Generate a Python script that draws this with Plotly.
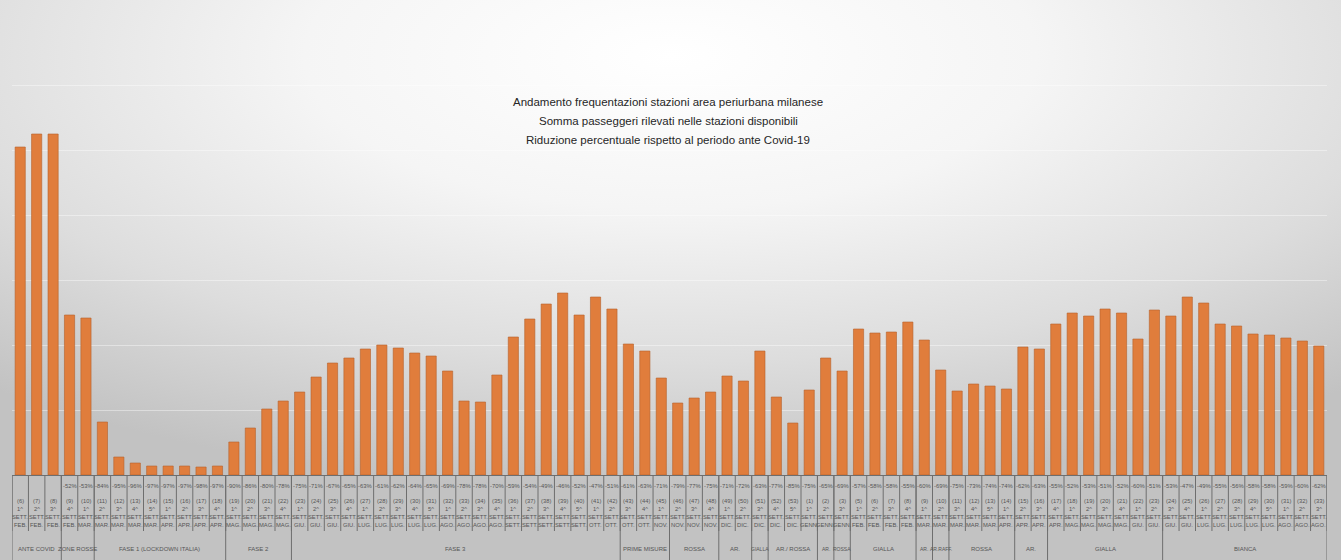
import base64
import plotly.graph_objects as go

# settimane (numero ISO), ordinale nel mese, mese
weeks = [6, 7, 8, 9, 10, 11, 12, 13, 14, 15, 16, 17, 18, 19, 20, 21, 22,
         23, 24, 25, 26, 27, 28, 29, 30, 31, 32, 33, 34, 35, 36, 37, 38, 39, 40, 41, 42,
         43, 44, 45, 46, 47, 48, 49, 50, 51, 52, 53,
         1, 2, 3, 5, 6, 7, 8, 9, 10, 11, 12, 13, 14, 15, 16, 17, 18, 19, 20, 21, 22,
         23, 24, 25, 26, 27, 28, 29, 30, 31, 32, 33]
ordinals = [1, 2, 3, 4, 1, 2, 3, 4, 5, 1, 2, 3, 4, 1, 2, 3, 4,
            1, 2, 3, 4, 1, 2, 3, 4, 5, 1, 2, 3, 4, 1, 2, 3, 4, 5, 1, 2,
            3, 4, 1, 2, 3, 4, 1, 2, 3, 4, 5,
            1, 2, 3, 1, 2, 3, 4, 1, 2, 3, 4, 5, 1, 2, 3, 4, 1, 2, 3, 4, 1,
            2, 3, 4, 1, 2, 3, 4, 5, 1, 2, 3]
months = ["FEB.", "FEB.", "FEB.", "FEB.", "MAR.", "MAR.", "MAR.", "MAR.", "MAR.",
          "APR.", "APR.", "APR.", "APR.", "MAG.", "MAG.", "MAG.", "MAG.",
          "GIU.", "GIU.", "GIU.", "GIU.", "LUG.", "LUG.", "LUG.", "LUG.", "LUG.",
          "AGO.", "AGO.", "AGO.", "AGO.", "SETT.", "SETT.", "SETT.", "SETT.", "SETT.",
          "OTT.", "OTT.", "OTT.", "OTT.", "NOV.", "NOV.", "NOV.", "NOV.",
          "DIC.", "DIC.", "DIC.", "DIC.", "DIC.",
          "GENN.", "GENN.", "GENN.", "FEB.", "FEB.", "FEB.", "FEB.",
          "MAR.", "MAR.", "MAR.", "MAR.", "MAR.", "APR.", "APR.", "APR.", "APR.",
          "MAG.", "MAG.", "MAG.", "MAG.", "GIU.", "GIU.", "GIU.", "GIU.",
          "LUG.", "LUG.", "LUG.", "LUG.", "LUG.", "AGO.", "AGO.", "AGO."]
# somma passeggeri (unita' relative)
passengers = [328, 341, 341, 160, 157, 53, 18, 12, 9, 9, 9, 8, 9, 33, 47, 66, 74,
              83, 98, 112, 117, 126, 130, 127, 122, 119, 104, 74, 73, 100, 138, 156,
              171, 182, 160, 178, 166, 131, 124, 97, 72, 77, 83, 99, 94, 124, 78, 52,
              85, 117, 104, 146, 142, 143, 153, 135, 105, 84, 91, 89, 86, 128, 126,
              151, 162, 159, 166, 162, 136, 165, 159, 178, 172, 151, 149, 141, 140,
              137, 134, 129]
reduction = ["", "", "", "-52%", "-53%", "-84%", "-95%", "-96%", "-97%", "-97%",
             "-97%", "-98%", "-97%", "-90%", "-86%", "-80%", "-78%",
             "-75%", "-71%", "-67%", "-65%", "-63%", "-61%", "-62%", "-64%", "-65%",
             "-69%", "-78%", "-78%", "-70%", "-59%", "-54%", "-49%", "-46%", "-52%",
             "-47%", "-51%", "-61%", "-63%", "-71%", "-79%", "-77%", "-75%", "-71%",
             "-72%", "-63%", "-77%", "-85%", "-75%", "-65%", "-69%", "-57%", "-58%",
             "-58%", "-55%", "-60%", "-69%", "-75%", "-73%", "-74%", "-74%", "-62%",
             "-63%", "-55%", "-52%", "-53%", "-51%", "-52%", "-60%", "-51%", "-53%",
             "-47%", "-49%", "-55%", "-56%", "-58%", "-58%", "-59%", "-60%", "-62%"]
group_labels = ["ANTE COVID", "ZONE ROSSE", "FASE 1 (LOCKDOWN ITALIA)", "FASE 2", "FASE 3",
                "PRIME MISURE", "ROSSA", "AR.", "GIALLA", "AR./ ROSSA", "AR.", "ROSSA",
                "GIALLA", "AR.", "AR.RAFF.", "ROSSA", "AR.", "GIALLA", "BIANCA"]
group_sizes = [3, 2, 8, 4, 20, 3, 3, 2, 1, 3, 1, 1, 4, 1, 1, 4, 2, 7, 10]

title_lines = ["Andamento frequentazioni stazioni area periurbana milanese",
               "Somma passeggeri rilevati nelle stazioni disponibili",
               "Riduzione percentuale rispetto al periodo ante Covid-19"]

W, H = 1341, 560
ML, MR, MT, MB = 12, 14, 20, 85
PH = H - MT - MB

def py(px):  # pixel below the baseline -> paper y
    return -px / PH

n = len(passengers)
xs = list(range(n))

fig = go.Figure()
fig.add_trace(go.Bar(x=xs, y=passengers, marker=dict(color="#E07D3C", line=dict(color="#B5622C", width=0.6)),
                     width=0.62, hoverinfo="y"))

# background gradient
svg = ('<svg xmlns="http://www.w3.org/2000/svg" width="1341" height="560">'
       '<defs><radialGradient id="g" cx="50%" cy="10%" r="78%">'
       '<stop offset="0%" stop-color="#ffffff"/><stop offset="35%" stop-color="#f5f5f5"/>'
       '<stop offset="70%" stop-color="#dddddd"/><stop offset="100%" stop-color="#c2c2c2"/>'
       '</radialGradient></defs><rect width="1341" height="560" fill="url(#g)"/></svg>')
src = "data:image/svg+xml;base64," + base64.b64encode(svg.encode()).decode()
pw = W - ML - MR
fig.add_layout_image(dict(source=src, xref="paper", yref="paper", x=-ML / pw, y=1 + MT / PH,
                          sizex=W / pw, sizey=H / PH, sizing="stretch", xanchor="left",
                          yanchor="top", layer="below"))

ann = []
shapes = []
txt = dict(family="Liberation Sans", size=5.8, color="#555555")
for i in xs:
    for lab, off in [(reduction[i], 11), ("(%d)" % weeks[i], 26), ("%d^" % ordinals[i], 34),
                     ("SETT.", 42), (months[i], 50)]:
        if lab:
            ann.append(dict(x=i, y=py(off), xref="x", yref="paper", text=lab, showarrow=False,
                            font=txt, xanchor="center", yanchor="middle"))
for i in range(n + 1):
    shapes.append(dict(type="line", xref="x", yref="paper", x0=i - 0.5, x1=i - 0.5,
                       y0=0, y1=py(56), line=dict(color="#6e6e6e", width=1)))

start = 0
for lab, size in zip(group_labels, group_sizes):
    fs = 5 if size == 1 else 6
    ann.append(dict(x=start + (size - 1) / 2, y=py(74), xref="x", yref="paper", text=lab,
                    showarrow=False, font=dict(family="Liberation Sans", size=fs, color="#555555"),
                    xanchor="center", yanchor="middle"))
    shapes.append(dict(type="line", xref="x", yref="paper", x0=start - 0.5, x1=start - 0.5,
                       y0=0, y1=py(MB), line=dict(color="#6e6e6e", width=1)))
    start += size
shapes.append(dict(type="line", xref="x", yref="paper", x0=start - 0.5, x1=start - 0.5,
                   y0=0, y1=py(MB), line=dict(color="#6e6e6e", width=1)))

for k, line in enumerate(title_lines):
    ann.append(dict(x=0.499, y=1 - (102 + 19 * k - MT) / PH, xref="paper", yref="paper", text=line,
                    showarrow=False, font=dict(family="Liberation Sans", size=11.5, color="#262626"),
                    xanchor="center", yanchor="middle"))

fig.update_layout(
    width=W, height=H,
    margin=dict(l=ML, r=MR, t=MT, b=MB),
    paper_bgcolor="#d8d8d8", plot_bgcolor="rgba(0,0,0,0)",
    showlegend=False,
    xaxis=dict(range=[-0.5, n - 0.5], showticklabels=False, showgrid=False, zeroline=False,
               showline=True, linecolor="#6e6e6e", linewidth=1, fixedrange=True),
    yaxis=dict(range=[0, PH], dtick=65, showticklabels=False, showgrid=True,
               gridcolor="rgba(255,255,255,0.4)", gridwidth=1, zeroline=False, fixedrange=True),
    annotations=ann, shapes=shapes,
)

# the page's default body margin would shift the chart by 8px
fig.write_html("out.html", config={"displayModeBar": False},
               post_script="document.body.style.margin='0';document.body.style.overflow='hidden';")
